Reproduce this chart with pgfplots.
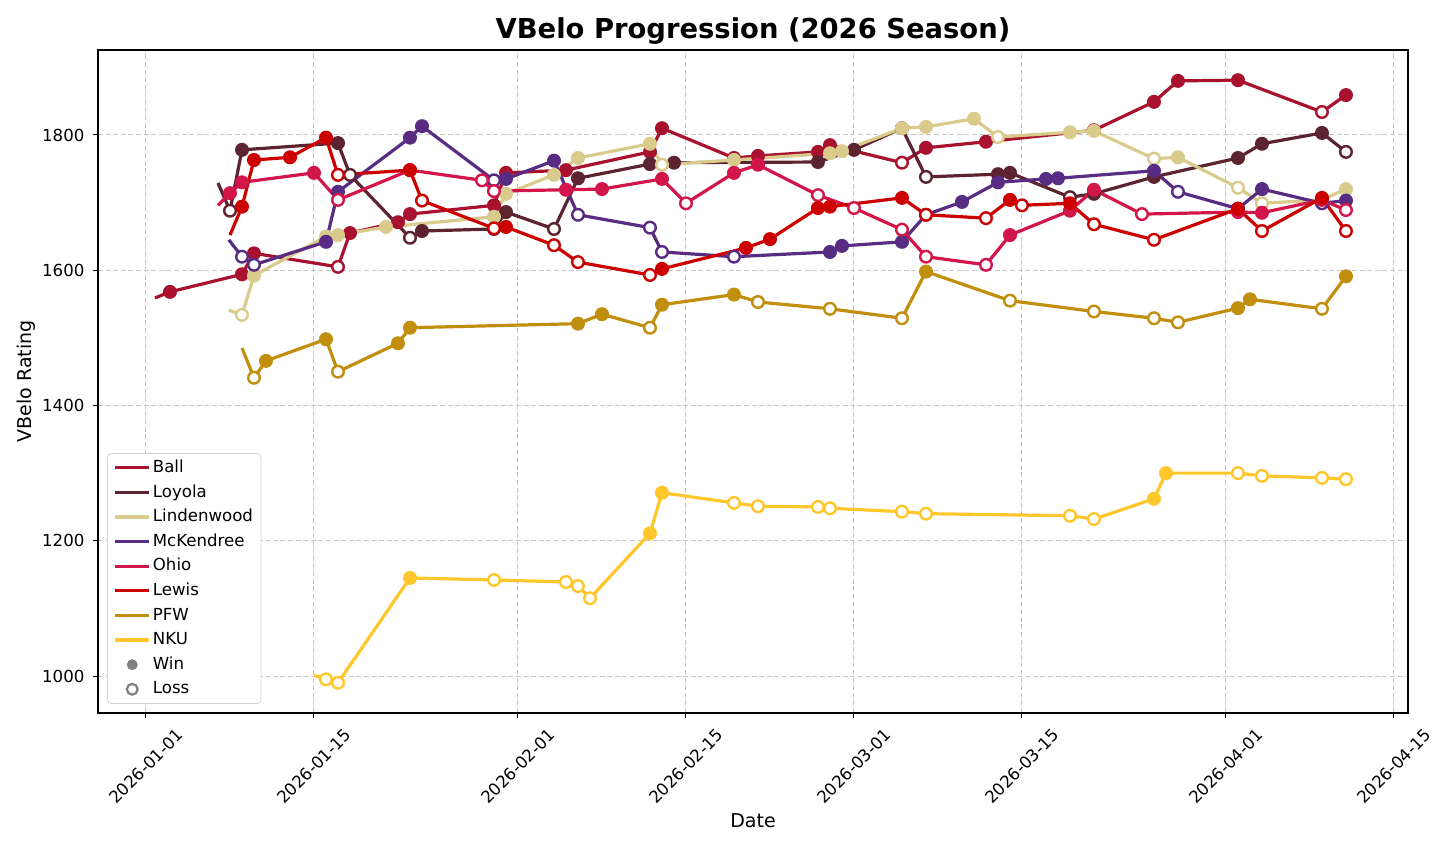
\documentclass[border=0pt]{standalone}
\usepackage{fontspec}
\setmainfont{DejaVu Sans}
\usepackage{pgfplots}
\usepackage{pgfplotstable}
\pgfplotsset{compat=1.18}
\definecolor{ballc}{HTML}{A8122F}
\definecolor{loyc}{HTML}{5C2330}
\definecolor{linc}{HTML}{D9CB8B}
\definecolor{mckc}{HTML}{582C83}
\definecolor{ohic}{HTML}{D2164A}
\definecolor{lewc}{HTML}{CC0000}
\definecolor{pfwc}{HTML}{C28E0E}
\definecolor{nkuc}{HTML}{FFC72C}

\pgfplotstableread{
d v t
0.75 1559 N
2 1568 W
8 1594 W
9 1625 W
16 1605 L
17 1655 W
21 1671 W
22 1683 W
29 1696 W
30 1744 W
35 1748 W
42 1775 W
43 1810 W
49 1766 L
51 1769 W
56 1775 W
57 1785 W
63 1759 L
65 1781 W
70 1790 W
79 1807 W
84 1849 W
86 1880 W
91 1881 W
98 1834 L
100 1859 W
}\ball

\pgfplotstableread{
d v t
6 1729 N
7 1688 L
8 1778 W
16 1788 W
17 1741 L
22 1648 L
23 1658 W
29 1661 W
30 1686 W
34 1661 L
36 1736 W
42 1757 W
44 1759 W
56 1760 W
59 1778 W
63 1810 W
65 1738 L
71 1742 W
72 1744 W
77 1708 L
79 1713 W
84 1738 W
91 1766 W
93 1787 W
98 1803 W
100 1775 L
}\loyola

\pgfplotstableread{
d v t
6.9 1541 N
8 1534 L
9 1592 W
15 1650 W
16 1652 W
20 1664 W
29 1679 W
30 1713 W
34 1741 W
36 1766 W
42 1787 W
43 1756 L
49 1763 W
57 1773 W
58 1776 W
63 1810 W
65 1812 W
69 1824 W
71 1797 L
77 1804 W
79 1806 W
84 1765 L
86 1767 W
91 1722 L
93 1699 L
98 1704 W
100 1720 W
}\linden

\pgfplotstableread{
d v t
6.9 1645 N
8 1620 L
9 1608 L
15 1642 W
16 1716 W
22 1796 W
23 1813 W
29 1733 L
30 1735 W
34 1762 W
36 1682 L
42 1663 L
43 1627 L
49 1620 L
57 1627 W
58 1636 W
63 1642 W
65 1682 W
68 1701 W
71 1730 W
75 1735 W
76 1736 W
84 1747 W
86 1716 L
91 1691 L
93 1720 W
98 1699 L
100 1703 W
}\mck

\pgfplotstableread{
d v t
6 1696 N
7 1714 W
8 1730 W
14 1744 W
16 1704 L
22 1748 W
28 1733 L
29 1717 L
35 1719 W
38 1720 W
43 1735 W
45 1699 L
49 1744 W
51 1756 W
56 1711 L
59 1692 L
63 1660 L
65 1620 L
70 1608 L
72 1652 W
77 1688 W
79 1719 W
83 1683 L
91 1686 W
93 1685 W
98 1704 W
100 1689 L
}\ohio

\pgfplotstableread{
d v t
7 1652 N
8 1694 W
9 1763 W
12 1767 W
15 1796 W
16 1741 L
22 1748 W
23 1703 L
29 1662 L
30 1664 W
34 1637 L
36 1612 L
42 1593 L
43 1602 W
50 1633 W
52 1646 W
56 1692 W
57 1694 W
63 1707 W
65 1682 L
70 1677 L
72 1704 W
73 1696 L
77 1699 W
79 1668 L
84 1645 L
91 1691 W
93 1658 L
98 1707 W
100 1658 L
}\lewis

\pgfplotstableread{
d v t
8 1485 N
9 1441 L
10 1466 W
15 1498 W
16 1450 L
21 1492 W
22 1515 W
36 1521 W
38 1535 W
42 1515 L
43 1549 W
49 1564 W
51 1553 L
57 1543 L
63 1529 L
65 1598 W
72 1555 L
79 1539 L
84 1529 L
86 1523 L
91 1544 W
92 1557 W
98 1543 L
100 1591 W
}\pfw

\pgfplotstableread{
d v t
14 1001 N
15 995 L
16 990 L
22 1145 W
29 1142 L
35 1139 L
36 1133 L
37 1115 L
42 1211 W
43 1271 W
49 1256 L
51 1251 L
56 1250 L
57 1248 L
63 1243 L
65 1240 L
77 1237 L
79 1232 L
84 1262 W
85 1300 W
91 1300 L
93 1296 L
98 1293 L
100 1291 L
}\nku

\pgfplotsset{
  team/.style={color=#1, line width=1.6pt, forget plot, scatter,
    point meta=explicit symbolic,
    scatter/classes={
      W={mark=*, mark size=3.2pt, line width=0.6pt, draw=#1, fill=#1},
      L={mark=*, mark size=2.9pt, line width=1.2pt, draw=#1, fill=white},
      N={mark=none}}},
}

\begin{document}
\begin{tikzpicture}
\useasboundingbox (-49pt,-68pt) rectangle (679pt,356.5pt);
\begin{axis}[
  name=main,
  scale only axis,
  width=655pt, height=331.5pt,
  xmin=-4, xmax=105.17,
  ymin=945.3, ymax=1925.7,
  axis line style={line width=0.75pt},
  tick align=outside,
  major tick length=2.6pt,
  tick style={black, line width=0.5pt},
  xtick pos=bottom, ytick pos=left,
  xtick={0,14,31,45,59,73,90,104},
  xticklabels={2026-01-01,2026-01-15,2026-02-01,2026-02-15,2026-03-01,2026-03-15,2026-04-01,2026-04-15},
  ytick={1000,1200,1400,1600,1800},
  /pgf/number format/1000 sep={},
  /pgf/number format/assume math mode=true,
  ticklabel style={font=\fontsize{8.3}{10}\selectfont},
  xticklabel style={rotate=45, anchor=center},
  xticklabel shift=24pt,
  yticklabel style={anchor=east, inner sep=0pt},
  yticklabel shift=4pt,
  grid=major,
  major grid style={gray!45, line width=0.5pt, dash pattern=on 2.5pt off 1.3pt},
  xlabel={Date},
  xlabel style={font=\fontsize{9.5}{11}\selectfont, at={(axis description cs:0.5,-0.163)}, anchor=center},
  ylabel={VBelo Rating},
  ylabel style={font=\fontsize{9.5}{11}\selectfont, at={(axis description cs:-0.055,0.5)}, anchor=center},
  legend cell align=left,
  legend style={at={(axis description cs:0.007,0.0136)}, anchor=south west,
    draw=gray!35, rounded corners=2pt, font=\fontsize{8.3}{10}\selectfont,
    nodes={inner sep=1pt, text height=6.5pt, text depth=1.8pt}, row sep=2pt},
]
\addplot[team=ballc] table[x=d,y=v,meta=t] {\ball};
\addplot[team=loyc] table[x=d,y=v,meta=t] {\loyola};
\addplot[team=linc] table[x=d,y=v,meta=t] {\linden};
\addplot[team=mckc] table[x=d,y=v,meta=t] {\mck};
\addplot[team=ohic] table[x=d,y=v,meta=t] {\ohio};
\addplot[team=lewc] table[x=d,y=v,meta=t] {\lewis};
\addplot[team=pfwc] table[x=d,y=v,meta=t] {\pfw};
\addplot[team=nkuc] table[x=d,y=v,meta=t] {\nku};

\addlegendimage{ballc, line width=1.6pt}
\addlegendimage{loyc, line width=1.6pt}
\addlegendimage{linc, line width=1.6pt}
\addlegendimage{mckc, line width=1.6pt}
\addlegendimage{ohic, line width=1.6pt}
\addlegendimage{lewc, line width=1.6pt}
\addlegendimage{pfwc, line width=1.6pt}
\addlegendimage{nkuc, line width=1.6pt}
\addlegendimage{only marks, mark=*, mark size=2.5pt, gray, mark options={fill=gray}}
\addlegendimage{only marks, mark=*, mark size=2.7pt, gray, line width=1.1pt, mark options={fill=white}}
\legend{Ball,Loyola,Lindenwood,McKendree,Ohio,Lewis,PFW,NKU,Win,Loss}
\end{axis}
\node[anchor=base, font=\fontsize{13.7}{16}\selectfont\bfseries, inner sep=0pt] at ([yshift=5.5pt]main.north) {VBelo Progression (2026 Season)};
\end{tikzpicture}
\end{document}
